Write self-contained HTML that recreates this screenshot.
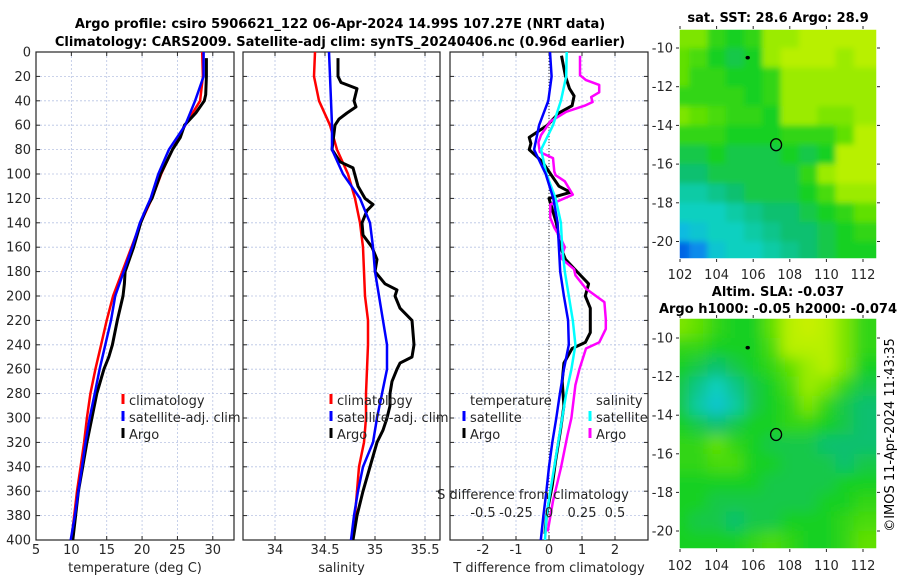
<!DOCTYPE html>
<html><head><meta charset="utf-8"><style>
html,body{margin:0;padding:0;background:#fff;}
svg{display:block;font-family:"DejaVu Sans","Liberation Sans",sans-serif;}
</style></head><body>
<svg id="fig" width="900" height="580" viewBox="0 0 900 580" xmlns="http://www.w3.org/2000/svg">
<defs>
<filter id="smooth" x="-5%" y="-5%" width="110%" height="110%"><feGaussianBlur stdDeviation="7"/></filter>
<filter id="soft" x="-5%" y="-5%" width="110%" height="110%"><feGaussianBlur stdDeviation="3"/></filter>
<clipPath id="clipm1"><rect x="679" y="29" width="198" height="230"/></clipPath>
<clipPath id="clipm2"><rect x="679" y="318" width="198" height="231"/></clipPath>
<clipPath id="clipp1"><rect x="36" y="52" width="198" height="488"/></clipPath>
<clipPath id="clipp2"><rect x="243" y="52" width="197" height="488"/></clipPath>
<clipPath id="clipp3"><rect x="450" y="52" width="198" height="488"/></clipPath>
</defs>
<text x="340" y="28" text-anchor="middle" font-size="13" font-weight="bold">Argo profile: csiro 5906621_122 06-Apr-2024 14.99S 107.27E (NRT data)</text>
<text x="340" y="46" text-anchor="middle" font-size="13" font-weight="bold">Climatology: CARS2009. Satellite-adj clim: synTS_20240406.nc (0.96d earlier)</text>
<text x="778" y="22" text-anchor="middle" font-size="13" font-weight="bold">sat. SST: 28.6 Argo: 28.9</text>
<text x="778" y="296" text-anchor="middle" font-size="13" font-weight="bold">Altim. SLA: -0.037</text>
<text x="778" y="313" text-anchor="middle" font-size="13" font-weight="bold">Argo h1000: -0.05 h2000: -0.074</text>
<text x="0" y="0" transform="translate(894,435) rotate(-90)" text-anchor="middle" font-size="13">©IMOS 11-Apr-2024 11:43:35</text>
<g id="layer"></g>
</svg>
<script>
// ---- profile data (depth in m) ----
const depths = [0,20,40,60,80,100,120,140,160,180,200,220,240,260,280,300,320,340,360,380,400];
const tempClim = [28.5,28.6,28.2,26.1,24.3,22.7,21.4,19.8,18.5,17.2,15.9,15.0,14.2,13.4,12.7,12.2,11.8,11.3,10.8,10.4,10.0];
const tempSat  = [28.7,28.7,27.5,26.1,23.8,22.3,21.2,19.7,18.6,17.4,16.2,15.6,14.8,14.0,13.3,12.6,12.0,11.5,11.0,10.5,9.9];
const argoDepths = [5,20,35,40,50,60,70,80,100,120,125,130,140,160,180,190,200,220,240,250,260,280,300,320,340,360,380,400];
const tempArgo = [29.1,29.1,29.0,28.8,27.6,26.0,25.4,24.3,22.6,21.4,20.9,20.5,19.8,18.8,17.6,17.5,17.3,16.5,15.8,15.3,14.6,13.6,12.9,12.2,11.6,11.0,10.6,10.2];
const salClim = [34.40,34.39,34.44,34.55,34.62,34.73,34.80,34.85,34.88,34.89,34.90,34.93,34.93,34.92,34.91,34.91,34.89,34.84,34.82,34.80,34.77];
const salSat  = [34.54,34.55,34.56,34.57,34.57,34.68,34.85,34.95,34.98,35.00,35.04,35.08,35.12,35.12,35.07,35.02,34.98,34.88,34.83,34.79,34.76];
const salArgoDepths = [5,20,25,30,40,45,50,55,60,80,90,95,110,120,125,130,140,150,160,170,180,190,195,200,210,220,230,240,250,255,260,270,280,290,300,310,320,340,360,380,400];
const salArgo = [34.63,34.63,34.66,34.82,34.79,34.81,34.72,34.64,34.60,34.57,34.65,34.78,34.83,34.90,34.98,34.92,34.87,34.88,34.97,35.02,35.00,35.10,35.22,35.20,35.25,35.37,35.38,35.39,35.37,35.25,35.22,35.17,35.15,35.15,35.12,35.08,35.02,34.95,34.88,34.82,34.78];
// ---- differences from climatology ----
const tDiffSat = [0.03,0.08,-0.02,-0.3,-0.45,-0.1,0.13,0.26,0.3,0.34,0.45,0.58,0.6,0.45,0.33,0.22,0.1,0.0,-0.08,-0.17,-0.25];
const tDiffArgoDepths = [3,20,30,36,44,50,60,70,75,80,90,100,110,115,120,140,160,170,180,190,200,210,230,238,243,255,270,290,310,335,355,380,395];
const tDiffArgo = [0.38,0.5,0.62,0.76,0.7,0.3,-0.05,-0.6,-0.55,-0.6,-0.2,0.05,0.3,0.65,0.0,0.22,0.35,0.5,0.85,1.2,1.1,1.25,1.25,1.1,0.7,0.45,0.4,0.45,0.35,0.2,0.1,-0.08,-0.12];
const sDiffSat = [0.134,0.13,0.09,0.03,-0.06,-0.02,0.05,0.09,0.1,0.12,0.15,0.18,0.2,0.17,0.13,0.1,0.07,0.04,0.01,-0.02,-0.03];
const sDiffArgoDepths = [3,19,23,27,33,37,41,44,49,57,68,74,82,87,98,101,106,117,125,136,144,153,160,169,178,183,194,205,219,227,238,243,260,273,300,314,341,368,393];
const sDiffArgo = [0.235,0.235,0.28,0.38,0.38,0.32,0.33,0.27,0.13,0.01,-0.06,-0.08,-0.07,0.03,0.04,0.05,0.12,0.18,0.01,0.01,0.04,0.09,0.12,0.09,0.19,0.2,0.28,0.42,0.43,0.43,0.38,0.28,0.23,0.2,0.17,0.14,0.09,0.03,-0.01];
// ---- tick labels ----
const depthTicks = [0,20,40,60,80,100,120,140,160,180,200,220,240,260,280,300,320,340,360,380,400];
const tempTicks = [5,10,15,20,25,30];
const salTicks = [34,34.5,35,35.5];
const tDiffTicks = [-2,-1,0,1,2];
const sDiffTicks = [-0.5,-0.25,0,0.25,0.5];
const lonTicks = [102,104,106,108,110,112];
const latTicks = [-10,-12,-14,-16,-18,-20];
// ---- map grids (relative colour index 0..1), rows from -9.5 to -20.5 lat, cols 102..112 lon ----
const sstGrid = [
[0.75,0.75,0.6,0.55,0.6,0.8,0.8,0.85,0.85,0.85,0.85],
[0.7,0.65,0.55,0.5,0.55,0.8,0.85,0.85,0.85,0.8,0.85],
[0.7,0.6,0.6,0.55,0.55,0.6,0.8,0.8,0.8,0.8,0.8],
[0.6,0.6,0.6,0.6,0.55,0.6,0.8,0.8,0.8,0.8,0.8],
[0.75,0.7,0.65,0.6,0.6,0.55,0.8,0.8,0.75,0.75,0.8],
[0.6,0.6,0.6,0.55,0.55,0.55,0.6,0.6,0.6,0.7,0.85],
[0.5,0.5,0.55,0.5,0.5,0.5,0.55,0.5,0.55,0.85,0.85],
[0.45,0.45,0.5,0.5,0.5,0.5,0.5,0.6,0.8,0.85,0.85],
[0.35,0.35,0.4,0.45,0.5,0.5,0.5,0.55,0.65,0.8,0.8],
[0.3,0.3,0.3,0.35,0.4,0.45,0.45,0.5,0.55,0.6,0.7],
[0.2,0.25,0.3,0.3,0.35,0.4,0.45,0.45,0.5,0.55,0.6],
[0.05,0.1,0.25,0.3,0.3,0.35,0.4,0.45,0.5,0.55,0.55]];
const slaGrid = [
[0.75,0.7,0.6,0.55,0.55,0.7,0.85,0.9,0.85,0.75,0.6],
[0.6,0.6,0.55,0.55,0.55,0.65,0.85,0.85,0.85,0.75,0.6],
[0.55,0.5,0.45,0.5,0.55,0.6,0.7,0.8,0.85,0.75,0.55],
[0.5,0.4,0.3,0.4,0.5,0.55,0.65,0.8,0.75,0.6,0.5],
[0.5,0.35,0.25,0.35,0.5,0.55,0.6,0.75,0.6,0.5,0.45],
[0.55,0.5,0.45,0.5,0.55,0.55,0.6,0.6,0.55,0.5,0.45],
[0.6,0.6,0.7,0.6,0.55,0.5,0.5,0.5,0.45,0.45,0.45],
[0.6,0.6,0.65,0.65,0.55,0.55,0.5,0.5,0.5,0.45,0.5],
[0.55,0.55,0.55,0.55,0.55,0.5,0.5,0.5,0.5,0.55,0.55],
[0.55,0.55,0.5,0.5,0.5,0.5,0.5,0.5,0.55,0.55,0.6],
[0.55,0.5,0.5,0.45,0.5,0.5,0.55,0.55,0.55,0.6,0.65],
[0.55,0.55,0.55,0.55,0.6,0.65,0.6,0.55,0.55,0.6,0.7]];
const argoPos = [107.25,-15.0];
const otherPos = [105.7,-10.5];

const NS='http://www.w3.org/2000/svg';
const layer=document.getElementById('layer');
function mk(tag,attrs,parent){const e=document.createElementNS(NS,tag);for(const k in attrs)e.setAttribute(k,attrs[k]);(parent||layer).appendChild(e);return e;}
function txt(x,y,s,size,anchor,parent){const t=mk('text',{x:x,y:y,'font-size':size,'text-anchor':anchor||'middle',fill:'#262626'},parent);t.textContent=s;return t;}

const Y0=52,Y1=540;
const yD=d=>Y0+(d/400)*(Y1-Y0);
const xT=v=>36+(v-5)*(198/28);
const xS=v=>243+(v-33.68)*100;
const xTd=v=>549+v*33;
const xSd=v=>549+v*132;

function panel(name,x0,x1,xs,ticks,fmt,label,showDepth){
  const g=mk('g',{});
  
  
  for(const d of depthTicks){
    if(d>0&&d<400){const l=mk('line',{x1:x0,x2:x1,y1:yD(d),y2:yD(d),stroke:'#b8c4e4','stroke-width':0.8,'stroke-dasharray':'2,2'},g);
      
      }
    mk('line',{x1:x0,x2:x0+4,y1:yD(d),y2:yD(d),stroke:'#262626'},g);
    mk('line',{x1:x1-4,x2:x1,y1:yD(d),y2:yD(d),stroke:'#262626'},g);
    if(showDepth){const t=txt(31,yD(d)+4.5,String(d),13,'end',g);
      
      }
  }
  for(const v of ticks){const x=xs(v);
    if(x>x0+1&&x<x1-1){const l=mk('line',{x1:x,x2:x,y1:Y0,y2:Y1,stroke:'#b8c4e4','stroke-width':0.8,'stroke-dasharray':'2,2'},g);
      
      }
    mk('line',{x1:x,x2:x,y1:Y1,y2:Y1-4,stroke:'#262626'},g);
    mk('line',{x1:x,x2:x,y1:Y0,y2:Y0+4,stroke:'#262626'},g);
    const t=txt(x,554,fmt(v),13,'middle',g);
    
    
  }
  const f=mk('rect',{x:x0,y:Y0,width:x1-x0,height:Y1-Y0,fill:'none',stroke:'#262626','stroke-width':1.2},g);
  
  
  const at=txt((x0+x1)/2,572,label,13,'middle',g);
  
  
  return g;
}
function line(xs,vals,dv,color,w,clip,name){
  const pts=vals.map((v,i)=>xs(v).toFixed(1)+','+yD(dv[i]).toFixed(1)).join(' ');
  const p=mk('polyline',{points:pts,fill:'none',stroke:color,'stroke-width':w,'stroke-linejoin':'round','clip-path':'url(#'+clip+')'});
  
  
}
function legendEntry(x,y,color,label,name){
  const g=mk('g',{});
  
  
  mk('line',{x1:x,x2:x,y1:y-11,y2:y-1,stroke:color,'stroke-width':3},g);
  txt(x+6,y,label,13,'start',g);
}

panel('temperature-panel',36,234,xT,tempTicks,v=>String(v),'temperature (deg C)',true);
panel('salinity-panel',243,440,xS,salTicks,v=>String(v),'salinity',false);
panel('difference-panel',450,648,xTd,tDiffTicks,v=>String(v),'T difference from climatology',false);
const zl=mk('line',{x1:xTd(0),x2:xTd(0),y1:Y0,y2:Y1,stroke:'#333','stroke-width':1,'stroke-dasharray':'1,2'});



line(xT,tempClim,depths,'#ff0000',2.5,'clipp1','temp-climatology-line');
line(xT,tempArgo,argoDepths,'#000000',3,'clipp1','temp-argo-line');
line(xT,tempSat,depths,'#0000ff',2.5,'clipp1','temp-satellite-line');
line(xS,salClim,depths,'#ff0000',2.5,'clipp2','sal-climatology-line');
line(xS,salArgo,salArgoDepths,'#000000',3,'clipp2','sal-argo-line');
line(xS,salSat,depths,'#0000ff',2.5,'clipp2','sal-satellite-line');
line(xTd,tDiffArgo,tDiffArgoDepths,'#000000',3,'clipp3','tdiff-argo-line');
line(xSd,sDiffArgo,sDiffArgoDepths,'#ff00ff',2.5,'clipp3','sdiff-argo-line');
line(xSd,sDiffSat,depths,'#00ffff',2.5,'clipp3','sdiff-satellite-line');
line(xTd,tDiffSat,depths,'#0000ff',2.5,'clipp3','tdiff-satellite-line');

const st=txt(533,499,'S difference from climatology',13,'middle');


for(const v of sDiffTicks){
  const t=txt(xSd(v),517,String(v),13,'middle');
  
  
}

legendEntry(123,405,'#ff0000','climatology','legend-climatology');
legendEntry(123,422,'#0000ff','satellite-adj. clim','legend-satellite-adj');
legendEntry(123,439,'#000000','Argo','legend-argo');
legendEntry(331,405,'#ff0000','climatology','legend-climatology-sal');
legendEntry(331,422,'#0000ff','satellite-adj. clim','legend-satellite-adj-sal');
legendEntry(331,439,'#000000','Argo','legend-argo-sal');
const lt=txt(470,405,'temperature',13,'start');


legendEntry(464,422,'#0000ff','satellite','legend-t-satellite');
legendEntry(464,439,'#000000','Argo','legend-t-argo');
const ls=txt(596,405,'salinity',13,'start');


legendEntry(590,422,'#00ffff','satellite','legend-s-satellite');
legendEntry(590,439,'#ff00ff','Argo','legend-s-argo');

// ---- maps ----
const stops=[[0,[0,64,224]],[0.15,[16,176,240]],[0.3,[16,208,192]],[0.45,[16,192,112]],[0.55,[24,208,32]],[0.7,[96,224,0]],[0.85,[184,240,0]],[1,[232,240,0]]];
function cmap(v){for(let i=1;i<stops.length;i++){if(v<=stops[i][0]){const a=stops[i-1],b=stops[i],t=(v-a[0])/(b[0]-a[0]);
  return 'rgb('+a[1].map((c,k)=>Math.round(c+(b[1][k]-c)*t)).join(',')+')';}}return 'rgb(232,240,0)';}
function drawMap(name,grid,top,bottom,lat10y,lat20y,filt,clip,lonLabelY){
  const g=mk('g',{});
  
  
  const xL=lon=>680+(lon-102)*18.3;
  const yL=lat=>lat10y+(-10-lat)*(lat20y-lat10y)/10;
  const cg=mk('g',{'clip-path':'url(#'+clip+')'},g);
  const inner=mk('g',{filter:'url(#'+filt+')'},cg);
  grid.forEach((row,r)=>row.forEach((v,c)=>{
    const lat0=-9-r, lon0=102+c-0.5;
    const x0=xL(lon0), x1=xL(lon0+1), y0=yL(lat0), y1=yL(lat0-1);
    const ext=c===row.length-1?30:0, extL=c===0?30:0, extT=r===0?30:0, extB=r===grid.length-1?30:0;
    const cell=mk('rect',{x:x0-extL,y:y0-extT,width:x1-x0+ext+extL+0.5,height:y1-y0+extB+extT+0.5,fill:cmap(v)},inner);
    
    
  }));
  const dot=mk('ellipse',{cx:xL(otherPos[0]),cy:yL(otherPos[1]),rx:2.2,ry:1.8,fill:'#000'},g);
  
  
  const ring=mk('ellipse',{cx:xL(argoPos[0]),cy:yL(argoPos[1]),rx:5.5,ry:6,fill:'none',stroke:'#000','stroke-width':1.3},g);
  
  
  mk('rect',{x:679,y:top,width:198,height:bottom-top,fill:'none',stroke:'#fff','stroke-width':1.5},g);
  for(const lon of lonTicks){const x=xL(lon);
    mk('line',{x1:x,x2:x,y1:bottom,y2:bottom+3,stroke:'#262626'},g);
    mk('line',{x1:x,x2:x,y1:top,y2:top-3,stroke:'#262626'},g);
    const t=txt(x,lonLabelY,String(lon),13,'middle',g);
    
    }
  for(const lat of latTicks){const y=yL(lat);
    mk('line',{x1:676,x2:679,y1:y,y2:y,stroke:'#262626'},g);
    mk('line',{x1:877,x2:880,y1:y,y2:y,stroke:'#262626'},g);
    const t=txt(673,y+4.5,String(lat),13,'end',g);
    
    }
}
drawMap('sst-map',sstGrid,29,259,48,241.5,'soft','clipm1',279);
drawMap('sla-map',slaGrid,318,549,338,531,'smooth','clipm2',570);
</script>
</body></html>
